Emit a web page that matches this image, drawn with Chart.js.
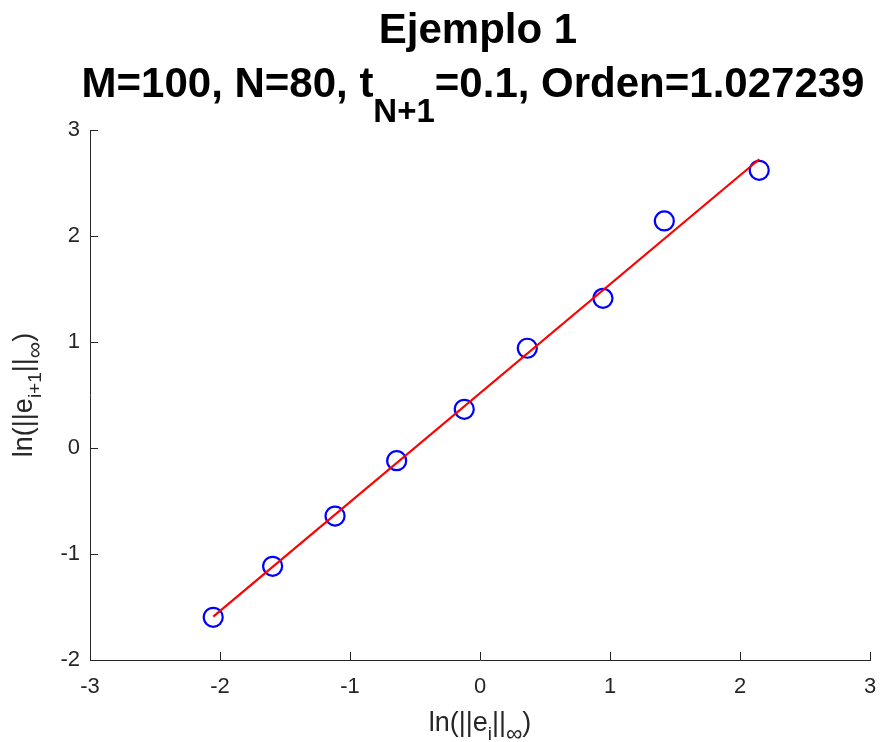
<!DOCTYPE html>
<html>
<head>
<meta charset="utf-8">
<script src="https://cdn.jsdelivr.net/npm/chart.js@4.4.0/dist/chart.umd.min.js"></script>
<style>
  html, body { margin: 0; padding: 0; background: #fff; }
</style>
</head>
<body>
<canvas id="chart" width="882" height="742"></canvas>
<script>
// values
var xVals = [-2.052, -1.595, -1.115, -0.641, -0.121, 0.364, 0.946, 1.418, 2.148];
var yVals = [-1.597, -1.116, -0.642, -0.120, 0.365, 0.941, 1.412, 2.142, 2.620];
var fitX = [-2.052, 2.148];
var fitY = [-1.590, 2.724];
var xTicks = [-3, -2, -1, 0, 1, 2, 3];
var yTicks = [-2, -1, 0, 1, 2, 3];

var FONT = "'Liberation Sans', Arial, Helvetica, sans-serif";
var AXIS_COLOR = '#262626';

// draws a run of [text, font, drop] pieces, centred at cx
function drawRuns(ctx, runs, cx, baseline) {
	var total = 0;
	runs.forEach(function(r) {
		ctx.font = r[1];
		r.w = ctx.measureText(r[0]).width;
		total += r.w;
	});
	var x = cx - total / 2;
	ctx.textAlign = 'left';
	ctx.textBaseline = 'alphabetic';
	runs.forEach(function(r) {
		ctx.font = r[1];
		ctx.fillText(r[0], x, baseline + (r[2] || 0));
		x += r.w;
	});
}

var textPlugin = {
	id: 'matlabText',
	afterDraw: function(chart) {
		var ctx = chart.ctx;
		var area = chart.chartArea;
		var cx = (area.left + area.right) / 2;
		var cy = (area.top + area.bottom) / 2;
		var xs = chart.scales.x, ys = chart.scales.y;
		ctx.save();

		// inward ticks
		ctx.strokeStyle = AXIS_COLOR;
		ctx.lineWidth = 1;
		ctx.beginPath();
		xTicks.forEach(function(t) {
			var px = Math.round(xs.getPixelForValue(t)) + 0.5;
			ctx.moveTo(px, area.bottom);
			ctx.lineTo(px, area.bottom - 8);
		});
		yTicks.forEach(function(t) {
			var py = Math.round(ys.getPixelForValue(t)) + 0.5;
			ctx.moveTo(area.left, py);
			ctx.lineTo(area.left + 8, py);
		});
		ctx.stroke();

		// title
		var tBig = 'bold 42px ' + FONT, tSub = 'bold 33px ' + FONT;
		ctx.fillStyle = '#000';
		drawRuns(ctx, [['Ejemplo 1', tBig]], cx - 2, 43);
		drawRuns(ctx, [['M=100, N=80, t', tBig], ['N+1', tSub, 25], ['=0.1, Orden=1.027239', tBig]], cx - 7, 97);

		// axis labels
		var lBig = '27px ' + FONT, lSub = '19px ' + FONT, lInf = '23px ' + FONT;
		ctx.fillStyle = AXIS_COLOR;
		drawRuns(ctx, [['ln(||e', lBig], ['i', lSub, 9], ['||', lBig], ['\u221E', lInf, 10], [')', lBig]], cx, 731);
		ctx.translate(0, cy);
		ctx.rotate(-Math.PI / 2);
		drawRuns(ctx, [['ln(||e', lBig], ['i+1', lSub, 9], ['||', lBig], ['\u221E', lInf, 10], [')', lBig]], 0, 32);
		ctx.restore();
	}
};

var scatterPts = xVals.map(function(x, i) { return { x: x, y: yVals[i] }; });
var fitPts = fitX.map(function(x, i) { return { x: x, y: fitY[i] }; });

new Chart(document.getElementById('chart'), {
	type: 'scatter',
	data: {
		datasets: [
			{
				label: 'ajuste',
				type: 'line',
				data: fitPts,
				borderColor: '#ff0000',
				borderWidth: 2.2,
				pointRadius: 0,
				fill: false,
				order: 0
			},
			{
				label: 'datos',
				data: scatterPts,
				borderColor: '#0000ff',
				backgroundColor: 'rgba(0,0,0,0)',
				pointRadius: 9.5,
				pointBorderWidth: 2.2,
				pointHoverRadius: 9.5,
				order: 1
			}
		]
	},
	options: {
		responsive: false,
		animation: false,
		layout: { padding: { top: 130, right: 12, left: 0, bottom: 0 } },
		plugins: {
			legend: { display: false },
			tooltip: { enabled: false },
			title: { display: false }
		},
		scales: {
			x: {
				type: 'linear',
				min: -3, max: 3,
				afterBuildTicks: function(s) { s.ticks = xTicks.map(function(v) { return { value: v }; }); },
				afterFit: function(s) { s.height = 82; s.paddingLeft = 0; s.paddingRight = 0; },
				grid: { display: false, drawTicks: false },
				border: { display: true, color: AXIS_COLOR, width: 1 },
				ticks: { padding: 14, color: AXIS_COLOR, font: { family: FONT, size: 22 }, maxRotation: 0 }
			},
			y: {
				type: 'linear',
				min: -2, max: 3,
				afterBuildTicks: function(s) { s.ticks = yTicks.map(function(v) { return { value: v }; }); },
				afterFit: function(s) { s.width = 90; s.paddingTop = 0; s.paddingBottom = 0; },
				grid: { display: false, drawTicks: false },
				border: { display: true, color: AXIS_COLOR, width: 1 },
				ticks: { padding: 10, color: AXIS_COLOR, font: { family: FONT, size: 22 } }
			}
		}
	},
	plugins: [textPlugin]
});
</script>
</body>
</html>
